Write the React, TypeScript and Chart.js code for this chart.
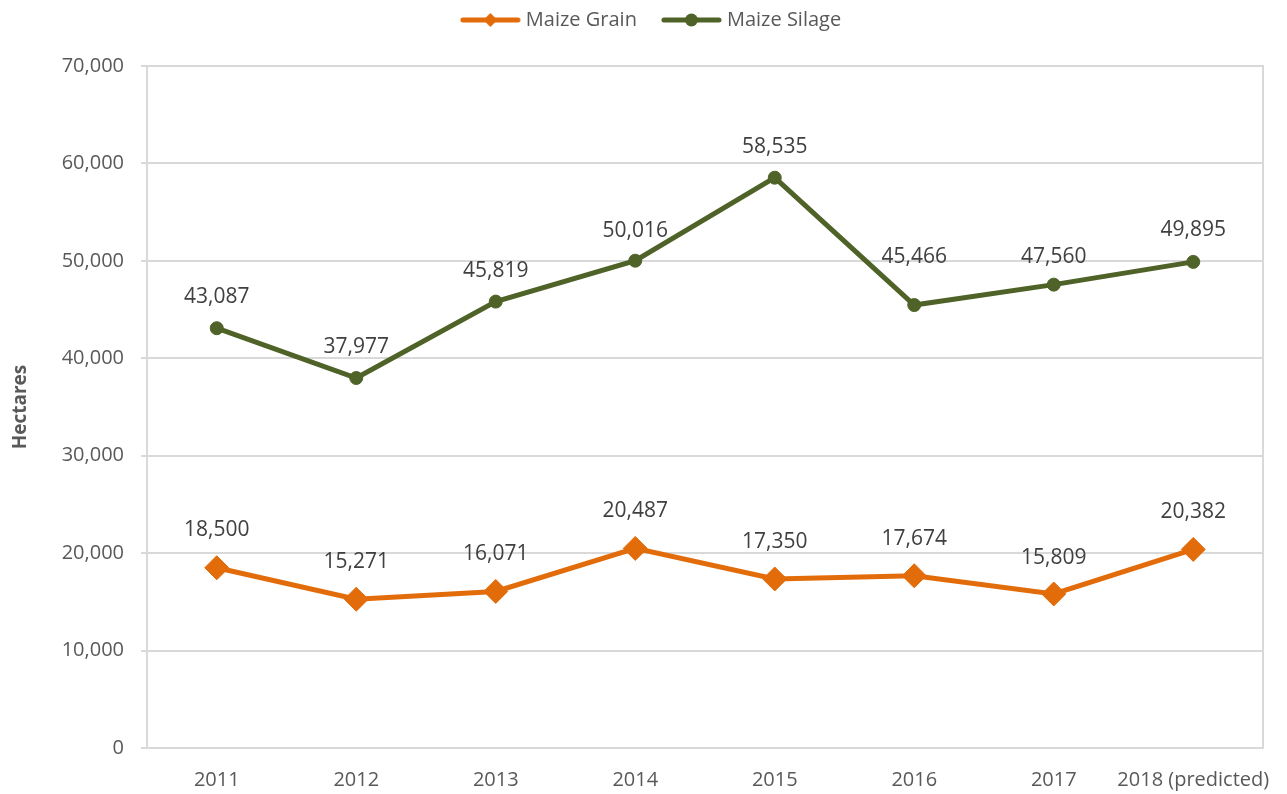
import React, { useEffect, useRef } from "react";
import { Chart, registerables } from "chart.js";

Chart.register(...registerables);

const categories = ["2011", "2012", "2013", "2014", "2015", "2016", "2017", "2018 (predicted)"];
const maizeGrain = [18500, 15271, 16071, 20487, 17350, 17674, 15809, 20382];
const maizeSilage = [43087, 37977, 45819, 50016, 58535, 45466, 47560, 49895];
const yTicks = [0, 10000, 20000, 30000, 40000, 50000, 60000, 70000];
// vertical lift of each value label above its point (label placement, not data)
const grainLabelLift = [38, 37, 37, 37, 37, 37, 36, 37];
const silageLabelLift = [31, 31, 31, 30, 31, 48, 28, 32];

const ORANGE = "#E36C0A";
const GREEN = "#4F6228";
const GRID = "#D9D9D9";
const TEXT = "#595959";
const LABEL = "#404040";
const FONT = "'Open Sans', sans-serif";

function fmt(v: number) {
  return v.toLocaleString("en-US");
}

function legendIcon(color: string, kind: "diamond" | "circle") {
  const c = document.createElement("canvas");
  c.width = 80;
  c.height = 18;
  const ctx = c.getContext("2d")!;
  ctx.strokeStyle = color;
  ctx.fillStyle = color;
  ctx.lineWidth = 5;
  ctx.lineCap = "round";
  ctx.beginPath();
  ctx.moveTo(22, 9);
  ctx.lineTo(77, 9);
  ctx.stroke();
  const cx = 49.5;
  ctx.beginPath();
  if (kind === "diamond") {
    ctx.moveTo(cx - 7, 9);
    ctx.lineTo(cx, 2);
    ctx.lineTo(cx + 7, 9);
    ctx.lineTo(cx, 16);
    ctx.closePath();
  } else {
    ctx.arc(cx, 9, 6.5, 0, Math.PI * 2);
  }
  ctx.fill();
  return c;
}

export default function App() {
  const ref = useRef<HTMLCanvasElement | null>(null);

  useEffect(() => {
    if (!ref.current) return;
    const grainIcon = legendIcon(ORANGE, "diamond");
    const silageIcon = legendIcon(GREEN, "circle");

    const legendSpace = {
      id: "legendSpace",
      beforeInit(chart: any) {
        const lg = chart.legend;
        if (lg && !lg.__patched) {
          const orig = lg.fit;
          lg.fit = function () {
            orig.call(this);
            this.height += 26;
          };
          lg.__patched = true;
        }
      },
    };

    const borderPlugin = {
      id: "plotBorder",
      beforeDatasetsDraw(chart: any) {
        const { ctx, chartArea } = chart;
        ctx.save();
        ctx.strokeStyle = GRID;
        ctx.lineWidth = 2;
        ctx.strokeRect(chartArea.left, chartArea.top, chartArea.right - chartArea.left, chartArea.bottom - chartArea.top);
        ctx.restore();
      },
    };

    const labelPlugin = {
      id: "valueLabels",
      afterDatasetsDraw(chart: any) {
        const { ctx } = chart;
        ctx.save();
        ctx.font = `21px ${FONT}`;
        ctx.fillStyle = LABEL;
        ctx.textAlign = "center";
        ctx.textBaseline = "middle";
        chart.data.datasets.forEach((ds: any, i: number) => {
          const meta = chart.getDatasetMeta(i);
          const lifts = i === 0 ? grainLabelLift : silageLabelLift;
          meta.data.forEach((pt: any, j: number) => {
            ctx.fillText(fmt(ds.data[j]), pt.x, pt.y - lifts[j]);
          });
        });
        ctx.restore();
      },
    };

    const chart = new Chart(ref.current, {
      type: "line",
      data: {
        labels: categories,
        datasets: [
          {
            label: "Maize Grain",
            data: maizeGrain,
            borderColor: ORANGE,
            backgroundColor: ORANGE,
            borderWidth: 5,
            pointStyle: "rectRot",
            pointRadius: 12,
            pointBorderWidth: 1,
            pointBackgroundColor: ORANGE,
            pointBorderColor: ORANGE,
            tension: 0,
          },
          {
            label: "Maize Silage",
            data: maizeSilage,
            borderColor: GREEN,
            backgroundColor: GREEN,
            borderWidth: 5,
            pointStyle: "circle",
            pointRadius: 6.5,
            pointBorderWidth: 1,
            pointBackgroundColor: GREEN,
            pointBorderColor: GREEN,
            tension: 0,
          },
        ],
      },
      options: {
        animation: false,
        responsive: false,
        maintainAspectRatio: false,
        layout: { padding: { top: 0, right: 0, bottom: 0, left: 0 } },
        plugins: {
          tooltip: { enabled: false },
          legend: {
            position: "top",
            labels: {
              usePointStyle: true,
              pointStyleWidth: 70,
              padding: 10,
              color: TEXT,
              font: { family: FONT, size: 20 },
              generateLabels: () => [
                { text: "Maize Grain", pointStyle: grainIcon, fillStyle: ORANGE, strokeStyle: ORANGE, lineWidth: 0, datasetIndex: 0, fontColor: TEXT },
                { text: "Maize Silage", pointStyle: silageIcon, fillStyle: GREEN, strokeStyle: GREEN, lineWidth: 0, datasetIndex: 1, fontColor: TEXT },
              ] as any,
            },
          },
        },
        scales: {
          x: {
            offset: true,
            grid: { display: false, drawTicks: false },
            border: { display: false },
            ticks: { color: TEXT, font: { family: FONT, size: 20 }, padding: 20, maxRotation: 0, autoSkip: false },
            afterFit: (s: any) => {
              s.height = 46;
              s.paddingLeft = 0;
              s.paddingRight = 0;
            },
          },
          y: {
            min: 0,
            max: 70000,
            afterBuildTicks: (s: any) => {
              s.ticks = yTicks.map((v) => ({ value: v }));
            },
            grid: { color: GRID, lineWidth: 2, drawTicks: true, tickLength: 6 },
            border: { display: true, color: GRID, width: 2 },
            ticks: {
              color: TEXT,
              font: { family: FONT, size: 20 },
              padding: 17,
              callback: (v: any) => fmt(Number(v)),
            },
            title: {
              display: true,
              text: "Hectares",
              color: TEXT,
              font: { family: FONT, size: 19, weight: "bold" },
              padding: { top: 9, bottom: 0 },
            },
            afterFit: (s: any) => {
              s.width = 147;
            },
          },
          yR: {
            position: "right",
            display: true,
            grid: { display: false, drawTicks: false },
            border: { display: false },
            ticks: { display: false },
            afterFit: (s: any) => {
              s.width = 24;
            },
          },
        },
      } as any,
      plugins: [legendSpace, borderPlugin, labelPlugin],
    });
    return () => chart.destroy();
  }, []);

  return (
    <div style={{ position: "fixed", left: 0, top: 0, width: 1287, height: 794, background: "#fff" }}>
      <canvas ref={ref} width={1287} height={794} style={{ display: "block", width: 1287, height: 794 }} />
    </div>
  );
}
